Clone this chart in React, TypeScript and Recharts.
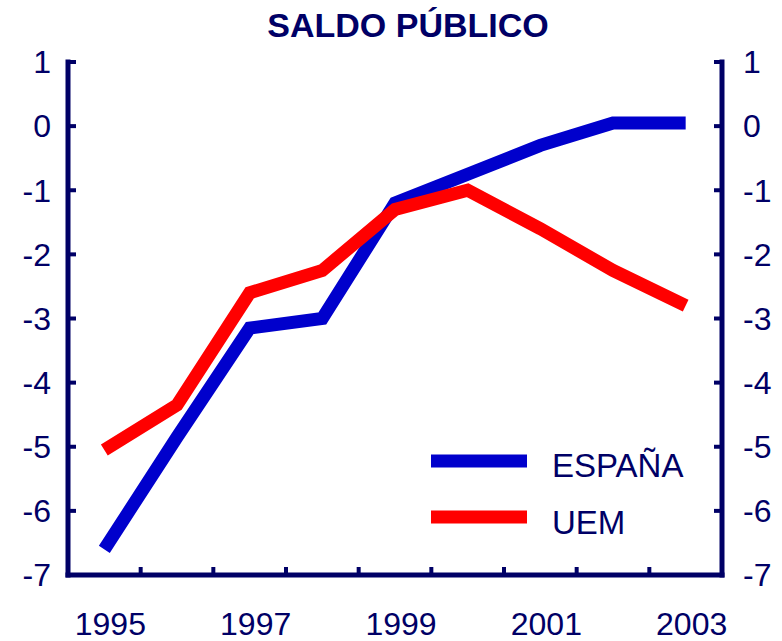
import React from 'react';
import { LineChart, Line, XAxis, YAxis, Legend } from 'recharts';

const years = [1995, 1996, 1997, 1998, 1999, 2000, 2001, 2002, 2003];
const espana = [-6.6, -4.85, -3.15, -3.0, -1.2, -0.75, -0.3, 0.05, 0.05];
const uem = [-5.05, -4.35, -2.6, -2.25, -1.3, -1.0, -1.6, -2.25, -2.8];

const yTicks = [-7, -6, -5, -4, -3, -2, -1, 0, 1];
const labelYears = [1995, 1997, 1999, 2001, 2003];
const boundaryTicks = [1995.5, 1996.5, 1997.5, 1998.5, 1999.5, 2000.5, 2001.5, 2002.5];

const data = years.map((year, i) => ({ year, espana: espana[i], uem: uem[i] }));

const NAVY = '#000066';
const FONT = '"Liberation Sans", Arial, sans-serif';

const tickText = { fill: NAVY, fontSize: 32, fontFamily: FONT };

// year labels at the points, small inward marks between the years
const XTick = (props: any) => {
  const { x, y, payload } = props;
  if (Number.isInteger(payload.value)) {
    return (
      <text x={x + 6} y={y + 60} textAnchor="middle" fill={NAVY} fontSize={32} fontFamily={FONT}>
        {payload.value}
      </text>
    );
  }
  return <line x1={x} x2={x} y1={y} y2={y - 8} stroke={NAVY} strokeWidth={4} />;
};

const LegendBox = (props: any) => {
  const items = props.payload || [];
  return (
    <svg width={270} height={110}>
      {items.map((entry: any, i: number) => (
        <g key={entry.value}>
          <line x1={0} x2={96} y1={21 + i * 56} y2={21 + i * 56} stroke={entry.color} strokeWidth={13} />
          <text x={121} y={37 + i * 57} fill={NAVY} fontSize={33} fontFamily={FONT}>
            {entry.value}
          </text>
        </g>
      ))}
    </svg>
  );
};

export default function App() {
  return (
    <div style={{ position: 'absolute', left: 0, top: 0, width: 782, height: 641, background: '#fff' }}>
      <svg width={782} height={50} style={{ position: 'absolute', left: 0, top: 0 }}>
        <text x={408} y={37} textAnchor="middle" fill={NAVY} fontSize={34} fontWeight="bold" fontFamily={FONT}>
          SALDO PÚBLICO
        </text>
      </svg>
      <LineChart width={782} height={641} data={data} margin={{ top: 62, right: 0, bottom: 0, left: 0 }}>
        <XAxis
          dataKey="year"
          type="number"
          domain={[1994.5, 2003.5]}
          ticks={[...boundaryTicks, ...labelYears]}
          interval={0}
          height={66}
          tickLine={false}
          tickSize={0}
          tickMargin={0}
          axisLine={{ stroke: NAVY, strokeWidth: 5, strokeLinecap: 'square' }}
          tick={<XTick />}
        />
        <YAxis
          yAxisId="left"
          orientation="left"
          width={68}
          type="number"
          domain={[-7, 1]}
          ticks={yTicks}
          interval={0}
          allowDataOverflow
          tickSize={-8}
          tickMargin={25}
          axisLine={{ stroke: NAVY, strokeWidth: 5, strokeLinecap: 'square' }}
          tickLine={{ stroke: NAVY, strokeWidth: 4 }}
          tick={tickText}
        />
        <YAxis
          yAxisId="right"
          orientation="right"
          width={60}
          type="number"
          domain={[-7, 1]}
          ticks={yTicks}
          interval={0}
          allowDataOverflow
          tickSize={-8}
          tickMargin={29}
          axisLine={{ stroke: NAVY, strokeWidth: 5, strokeLinecap: 'square' }}
          tickLine={{ stroke: NAVY, strokeWidth: 4 }}
          tick={tickText}
        />
        <Legend
          layout="vertical"
          align="center"
          verticalAlign="middle"
          content={<LegendBox />}
          wrapperStyle={{ position: 'absolute', left: 431, top: 440, width: 270 }}
        />
        <Line
          yAxisId="left"
          type="linear"
          dataKey="espana"
          name="ESPAÑA"
          stroke="#0000CC"
          strokeWidth={13}
          dot={false}
          activeDot={false}
          isAnimationActive={false}
        />
        <Line
          yAxisId="left"
          type="linear"
          dataKey="uem"
          name="UEM"
          stroke="#FF0000"
          strokeWidth={13}
          dot={false}
          activeDot={false}
          isAnimationActive={false}
        />
      </LineChart>
    </div>
  );
}
